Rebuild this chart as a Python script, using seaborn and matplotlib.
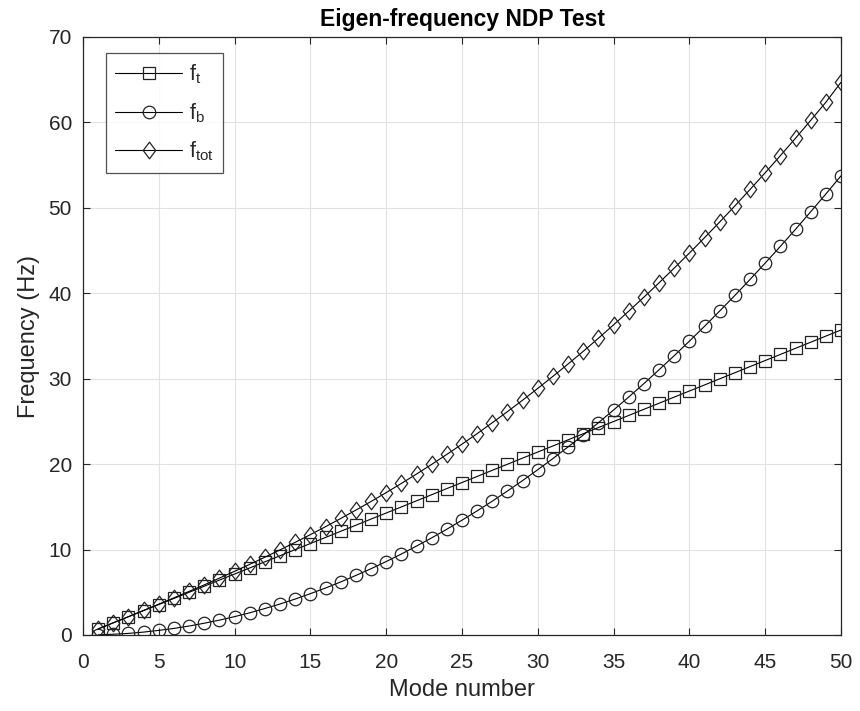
import numpy as np
import pandas as pd
import matplotlib
matplotlib.use("Agg")
import matplotlib.pyplot as plt
from matplotlib.path import Path
import seaborn as sns

modes = list(range(1, 51))
f_t = [0.71, 1.43, 2.14, 2.86, 3.57, 4.28, 5.00, 5.71, 6.43, 7.14,
       7.85, 8.57, 9.28, 10.00, 10.71, 11.42, 12.14, 12.85, 13.57, 14.28,
       14.99, 15.71, 16.42, 17.14, 17.85, 18.56, 19.28, 19.99, 20.71, 21.42,
       22.13, 22.85, 23.56, 24.28, 24.99, 25.70, 26.42, 27.13, 27.85, 28.56,
       29.27, 29.99, 30.70, 31.42, 32.13, 32.84, 33.56, 34.27, 34.99, 35.70]
f_b = [0.02, 0.09, 0.19, 0.34, 0.54, 0.77, 1.05, 1.38, 1.74, 2.15,
       2.60, 3.10, 3.63, 4.21, 4.84, 5.50, 6.21, 6.97, 7.76, 8.60,
       9.48, 10.41, 11.37, 12.38, 13.44, 14.53, 15.67, 16.86, 18.08, 19.35,
       20.66, 22.02, 23.41, 24.85, 26.34, 27.86, 29.43, 31.05, 32.70, 34.40,
       36.14, 37.93, 39.75, 41.62, 43.54, 45.49, 47.49, 49.54, 51.62, 53.75]
f_tot = [0.71, 1.43, 2.15, 2.88, 3.61, 4.35, 5.11, 5.87, 6.66, 7.46,
         8.27, 9.11, 9.97, 10.85, 11.75, 12.68, 13.64, 14.62, 15.63, 16.67,
         17.74, 18.84, 19.97, 21.14, 22.34, 23.57, 24.85, 26.15, 27.49, 28.87,
         30.28, 31.73, 33.21, 34.74, 36.31, 37.91, 39.55, 41.23, 42.95, 44.71,
         46.51, 48.35, 50.23, 52.15, 54.11, 56.11, 58.15, 60.24, 62.36, 64.70]

labels = ["$f_t$", "$f_b$", "$f_{tot}$"]

sns.set_theme(style="white")
plt.rcParams['font.family'] = ['Liberation Sans', 'DejaVu Sans']
plt.rcParams['mathtext.default'] = 'regular'

fig = plt.figure(figsize=(8.6, 7.11), dpi=100)
ax = fig.add_axes([83/860, (711-635)/711, (841-83)/860, (635-37)/711])

diamond = Path([(0, 1), (0.75, 0), (0, -1), (-0.75, 0), (0, 1)],
               [Path.MOVETO, Path.LINETO, Path.LINETO, Path.LINETO, Path.CLOSEPOLY])

gc = '#262626'
series = [(f_t, 's', 8.0), (f_b, 'o', 9.0), (f_tot, diamond, 12.0)]
for (vals, mk, ms), lab in zip(series, labels):
    sns.lineplot(x=modes, y=vals, ax=ax, color='black', linewidth=0.8,
                 marker=mk, markersize=ms, markerfacecolor='none',
                 markeredgecolor='#222222', markeredgewidth=0.9, label=lab)

ax.set_xlim(0, 50)
ax.set_ylim(0, 70)
ax.set_xticks(np.arange(0, 51, 5))
ax.set_yticks(np.arange(0, 71, 10))
ax.grid(True, color='#e2e2e2', linewidth=0.8)
ax.set_axisbelow(True)
for s in ax.spines.values():
    s.set_color(gc)
    s.set_linewidth(0.9)
ax.tick_params(direction='in', length=5, width=0.8, colors=gc, labelsize=15,
               top=True, right=True, bottom=True, left=True)
ax.tick_params(axis='x', pad=13)
ax.tick_params(axis='y', pad=8)
ax.set_xlabel('Mode number', fontsize=17, color=gc, labelpad=5)
ax.set_ylabel('Frequency (Hz)', fontsize=17, color=gc, labelpad=6)
ax.set_title('Eigen-frequency NDP Test', fontsize=16.5, fontweight='bold',
             color='black', pad=8)

leg = ax.legend(loc='upper left', bbox_to_anchor=(0.03, 0.973), fontsize=15.5,
                frameon=True, fancybox=False, edgecolor=gc, handlelength=3.1,
                handletextpad=0.3, borderpad=0.45, labelspacing=0.68,
                borderaxespad=0.0)
leg.get_frame().set_linewidth(0.9)

fig.savefig('out.png', dpi=100)
